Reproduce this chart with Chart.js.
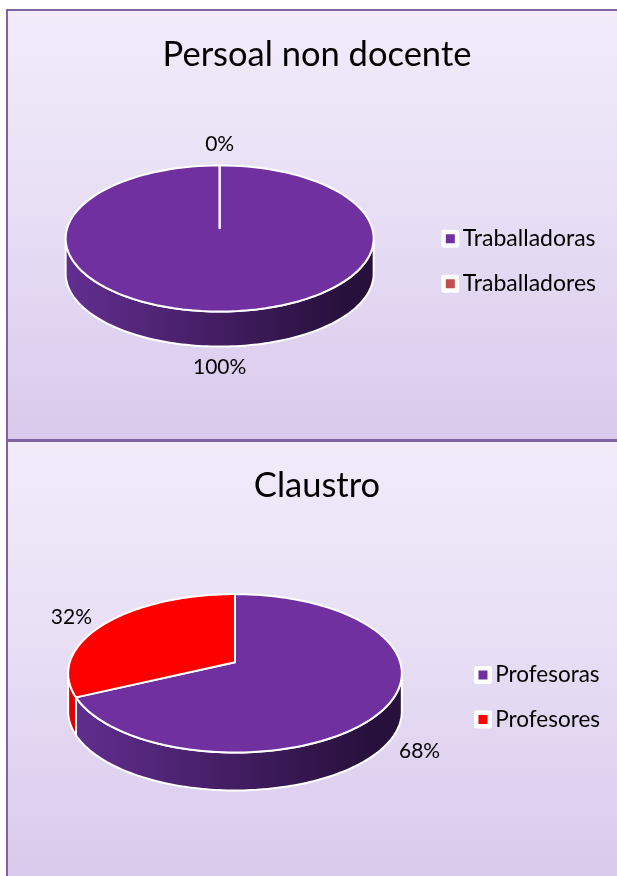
<!DOCTYPE html>
<html>
<head>
<meta charset="utf-8">
<title>Persoal non docente / Claustro</title>
<script src="https://cdn.jsdelivr.net/npm/chart.js@4"></script>
<style>
    html, body { margin: 0; padding: 0; width: 617px; height: 876px; overflow: hidden; background: #fff; }
    .panel {
        position: absolute; left: 6px; width: 620px; box-sizing: border-box;
        border: 2px solid #8064a2; border-right: none;
        background: linear-gradient(#f1ebfa, #e8dff5 45%, #d9c9ec);
    }
    #panel1 { top: 9px; height: 432px; }
    #panel2 { top: 440px; height: 440px; border-bottom: none; }
    canvas { position: absolute; left: 0; top: 0; }
</style>
</head>
<body>
<div class="panel" id="panel1"><canvas id="staffChart" width="618" height="430"></canvas></div>
<div class="panel" id="panel2"><canvas id="teachersChart" width="618" height="438"></canvas></div>
<script>
const staffTitle = "Persoal non docente";
const staffLabels = ["Traballadoras", "Traballadores"];
const staffValues = [100, 0];
const staffColors = ["#7030a0", "#c0504d"];

const teachersTitle = "Claustro";
const teachersLabels = ["Profesoras", "Profesores"];
const teachersValues = [68, 32];
const teachersColors = ["#7030a0", "#ff0000"];

const sideShades = {
    "#7030a0": ["#622e90", "#28103c"],
    "#c0504d": ["#a04340", "#602826"],
    "#ff0000": ["#e00000", "#900000"]
};

const FONT = "Lato, Carlito, Calibri, sans-serif";
const SQUASH = 0.47;
const PERSPECTIVE = 0.14;
const DEPTH = 0.23;

// Excel-style tilted pie: takes the angles from the arc elements and projects them
const tiltedPie = {
    id: "tiltedPie",
    beforeDatasetDraw(chart, args, opts) {
        const ctx = chart.ctx;
        const arcs = chart.getDatasetMeta(args.index).data;
        const cx = arcs[0].x - opts.shift;
        const cy = arcs[0].y - opts.lift;
        const r = arcs[0].outerRadius;
        const depth = r * DEPTH;
        const project = a => {
            const u = Math.cos(a), v = Math.sin(a), w = 1 - PERSPECTIVE * v;
            return [cx + r * u / w, cy + r * SQUASH * v / w];
        };
        const trace = (from, to, dy) => {
            for (let i = 0; i <= 120; i++) {
                const p = project(from + (to - from) * i / 120);
                ctx.lineTo(p[0], p[1] + dy);
            }
        };
        ctx.save();
        ctx.strokeStyle = "#fff";
        ctx.lineWidth = 2;
        ctx.lineJoin = "round";

        // front wall, only the part of each slice facing the viewer
        const frontStart = Math.asin(PERSPECTIVE);
        const frontEnd = Math.PI - frontStart;
        arcs.forEach(arc => {
            const from = Math.max(arc.startAngle, frontStart);
            const to = Math.min(arc.endAngle, frontEnd);
            if (to <= from) return;
            const shades = sideShades[arc.options.backgroundColor.toLowerCase()];
            const grad = ctx.createLinearGradient(cx - r, 0, cx + r * 0.8, 0);
            grad.addColorStop(0, shades[0]);
            grad.addColorStop(1, shades[1]);
            ctx.beginPath();
            trace(from, to, 0);
            trace(to, from, depth);
            ctx.closePath();
            ctx.fillStyle = grad;
            ctx.fill();
            ctx.stroke();
        });

        // top face
        arcs.forEach(arc => {
            ctx.beginPath();
            ctx.moveTo(cx, cy);
            trace(arc.startAngle, arc.endAngle, 0);
            ctx.closePath();
            ctx.fillStyle = arc.options.backgroundColor;
            ctx.fill();
            ctx.stroke();
        });

        // percentage labels
        const values = chart.data.datasets[args.index].data;
        const total = values.reduce((a, b) => a + b, 0);
        ctx.fillStyle = "#000";
        ctx.font = "21px " + FONT;
        ctx.textAlign = "center";
        ctx.textBaseline = "middle";
        arcs.forEach((arc, i) => {
            const mid = (arc.startAngle + arc.endAngle) / 2;
            const u = Math.cos(mid), v = Math.sin(mid);
            const p = project(mid);
            const x = p[0] + 40 * u;
            const y = p[1] + 21 * v * Math.abs(v) + (v > 0 ? depth : 0);
            ctx.fillText(Math.round(values[i] / total * 100) + "%", x, y);
        });
        ctx.restore();
        return false;
    }
};

function renderPie(id, title, labels, values, colors, radius, shift, lift, titleBottom, sidePad, legendFont) {
    const ctx = document.getElementById(id).getContext("2d");
    new Chart(ctx, {
        type: "pie",
        data: {
            labels: labels,
            datasets: [{
                data: values,
                backgroundColor: colors,
                borderColor: "#fff",
                borderWidth: 4.5
            }]
        },
        options: {
            responsive: false,
            animation: false,
            radius: radius,
            layout: { padding: { left: sidePad, right: sidePad } },
            plugins: {
                tiltedPie: { shift: shift, lift: lift },
                tooltip: { enabled: false },
                title: {
                    display: true,
                    text: title,
                    color: "#000",
                    font: { family: FONT, size: 34.5, weight: "normal" },
                    padding: { top: 23, bottom: titleBottom }
                },
                legend: {
                    position: "right",
                    fullSize: false,
                    labels: {
                        color: "#000",
                        font: { family: FONT, size: legendFont },
                        usePointStyle: true,
                        pointStyle: "rect",
                        boxWidth: 2,
                        boxHeight: 13.5,
                        padding: 22,
                        generateLabels: chart =>
                            Chart.overrides.pie.plugins.legend.labels.generateLabels(chart)
                                .map(item => Object.assign(item, { lineJoin: "round", pointStyle: "rect" }))
                    }
                }
            }
        },
        plugins: [tiltedPie]
    });
}

renderPie("staffChart", staffTitle, staffLabels, staffValues, staffColors, 152.5, 8, 33, 6, 20, 23);
renderPie("teachersChart", teachersTitle, teachersLabels, teachersValues, teachersColors, 165.2, 7, 35, 8, 16, 22.5);
</script>
</body>
</html>
